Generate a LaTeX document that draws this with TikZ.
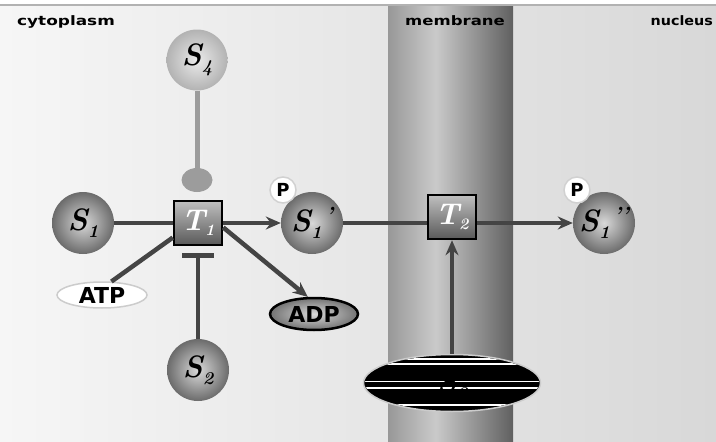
\documentclass[tikz,border=0pt]{standalone}
\usepackage{fontspec}
\usetikzlibrary{arrows.meta,shapes.geometric,calc}
\newfontfamily\dvsans{DejaVu Sans}
\definecolor{lnc}{HTML}{444444}
\definecolor{lgc}{HTML}{9C9C9C}
\definecolor{bgL}{HTML}{F6F6F6}
\definecolor{bgR}{HTML}{D8D8D8}
\definecolor{mL}{HTML}{989898}
\definecolor{mC}{HTML}{CACACA}
\definecolor{mR}{HTML}{606060}
\pgfdeclarehorizontalshading{membr}{100bp}{color(0bp)=(mL); color(25bp)=(mL); color(44bp)=(mC); color(75bp)=(mR); color(100bp)=(mR)}
\newcommand\Sname[2]{{\fontsize{31}{31}\selectfont\bfseries\itshape S\raisebox{-7pt}{\fontsize{18}{18}\selectfont #1}#2}}
\newcommand\Tname[1]{{\fontsize{30}{30}\selectfont\bfseries\itshape T\raisebox{-5pt}{\fontsize{16}{16}\selectfont #1}}}
\newcommand\Pmark[1]{\raisebox{9pt}{\fontsize{22}{22}\selectfont\,#1}}
\begin{document}
\begin{tikzpicture}[x=1pt,y=-1pt,
  sball/.style={circle, minimum size=62pt, inner sep=0pt, shading=radial, inner color=black!15, outer color=black!58},
  lball/.style={circle, minimum size=61pt, inner sep=0pt, shading=radial, inner color=black!8, outer color=black!30},
  tbox/.style={rectangle, minimum width=48pt, minimum height=44pt, inner sep=0pt, draw=black, line width=2.5pt, top color=black!25, bottom color=black!65, text=white},
  pbadge/.style={circle, minimum size=26pt, inner sep=0pt, fill=white, draw=black!18, line width=1.5pt, font=\dvsans\bfseries\fontsize{18}{18}\selectfont},
  conn/.style={draw=lnc, line width=4.5pt},
  arrowend/.style={-{Stealth[length=15pt,width=13pt,inset=5pt]}},
  toplabel/.style={font=\dvsans\bfseries\fontsize{13}{13}\selectfont, inner sep=0pt},
  molec/.style={ellipse, inner sep=0pt, font=\dvsans\bfseries\fontsize{22}{22}\selectfont},
]
\useasboundingbox (0,0) rectangle (716,442);
% background
\fill[white] (0,0) rectangle (716,442);
\shade[left color=bgL, right color=bgR] (0,5) rectangle (716,442);
\shade[shading=membr] (388,5) rectangle (513,442);
\draw[black!30, line width=1.5pt] (0,5) -- (716,5);
% labels
\node[toplabel, anchor=base west] (lcyt) at (17,25) {\scalebox{1.3}[1]{cytoplasm}};
\node[toplabel, anchor=base west] (lmem) at (405,25) {\scalebox{1.27}[1]{membrane}};
\node[toplabel, anchor=base east] (lnuc) at (713,25) {\scalebox{1.1}[1]{nucleus}};
% nodes
\node[lball] (S4) at (197,60) {\Sname{4}{}};
\node[ellipse, minimum width=31pt, minimum height=24pt, inner sep=0pt, fill=lgc] (dot) at (197,180) {};
\node[sball] (S1) at (83,223) {\Sname{1}{}};
\node[tbox] (T1) at (198,223) {\Tname{1}};
\node[sball] (S1p) at (312,223) {\Sname{1}{\Pmark{'}}};
\node[pbadge] (P1) at (283,190) {P};
\node[tbox] (T2) at (452,217) {\Tname{2}};
\node[sball] (S1pp) at (604,223) {\Sname{1}{\Pmark{'{}'}}};
\node[pbadge] (P2) at (577,190) {P};
\node[sball] (S2) at (198,370) {\Sname{2}{}};
\node[molec, minimum width=90pt, minimum height=26pt, fill=white, draw=black!20, line width=1.5pt] (ATP) at (102,295) {ATP};
\node[molec, minimum width=88pt, minimum height=32pt, inner color=black!15, outer color=black!55, draw=black, line width=2.5pt, text=black] (ADP) at (314,314) {ADP};
\node[ellipse, minimum width=177pt, minimum height=57pt, inner sep=0pt, fill=black, draw=black!20, line width=1.5pt] (S3) at (452,383) {};
\begin{scope}
  \clip (452,383) ellipse (87pt and 27.5pt);
  \foreach \yy in {359,364,381.5,388,405}
    \draw[white, line width=1.8pt] (360,\yy) -- (545,\yy);
\end{scope}
\node[text=black] (S3l) at (452,385) {\Sname{3}{}};
% connectors
\draw[draw=lgc, line width=5pt] (S4) -- (dot);
\draw[conn] (S1) -- (T1);
\draw[conn, arrowend] (T1) -- (S1p);
\draw[conn] (S1p) -- (S1p -| T2.west);
\draw[conn, arrowend] (T2.east |- S1pp) -- (S1pp);
\draw[conn] (ATP.55) -- (T1.210);
\draw[conn, arrowend] (T1.-10) -- (ADP.110);
\draw[conn, -{Bar[width=32pt,line width=5pt]}] (S2) -- ($(T1.south)+(0,7)$);
\draw[conn, arrowend] (S3) -- (T2);
\end{tikzpicture}
\end{document}
